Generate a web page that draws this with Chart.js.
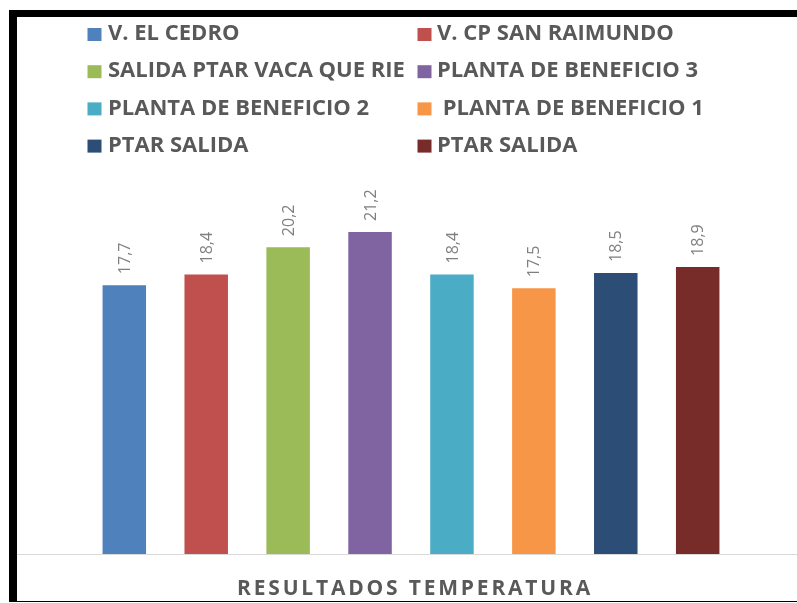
<!DOCTYPE html>
<html><head><meta charset="utf-8">
<script src="https://cdn.jsdelivr.net/npm/chart.js@4/dist/chart.umd.min.js"></script>
<style>
html,body{margin:0;padding:0;background:#fff;overflow:hidden;width:797px;height:603px;}
#frame{position:absolute;left:9px;top:10px;width:788px;height:584px;border-left:8px solid #000;border-top:7px solid #000;border-bottom:1px solid #000;overflow:hidden;background:#fff;}
canvas{display:block;}
</style></head><body>
<div id="frame"><canvas id="c" width="788" height="584"></canvas></div>
<script>
const categories = ['RESULTADOS TEMPERATURA'];
const seriesNames = ['V. EL CEDRO', 'V. CP SAN RAIMUNDO', 'SALIDA PTAR VACA QUE RIE', 'PLANTA DE BENEFICIO 3', 'PLANTA DE BENEFICIO 2', ' PLANTA DE BENEFICIO 1', 'PTAR SALIDA', 'PTAR SALIDA'];
const values = [17.7, 18.4, 20.2, 21.2, 18.4, 17.5, 18.5, 18.9];
const seriesColors = ['#4F81BD', '#C0504D', '#9BBB59', '#8064A2', '#4BACC6', '#F79646', '#2C4D75', '#772C2A'];
const yTicks = [0, 25];

const fmt = v => v.toFixed(1).replace('.', ',');

const spacingPlugin = {
  id: 'spacing',
  beforeDraw(chart) { chart.ctx.letterSpacing = '2.8px'; },
  beforeDatasetsDraw(chart) { chart.ctx.letterSpacing = '0px'; }
};

const valueLabels = {
  id: 'valueLabels',
  afterDatasetsDraw(chart) {
    const ctx = chart.ctx;
    ctx.save();
    ctx.letterSpacing = '0px';
    ctx.font = '16px "Open Sans"';
    ctx.fillStyle = '#7f7f7f';
    chart.data.datasets.forEach((ds, i) => {
      const meta = chart.getDatasetMeta(i);
      meta.data.forEach((el, j) => {
        ctx.save();
        ctx.translate(el.x + 1, el.y - 11);
        ctx.rotate(-Math.PI / 2);
        ctx.textAlign = 'left';
        ctx.textBaseline = 'middle';
        ctx.fillText(fmt(ds.data[j]), 0, 0);
        ctx.restore();
      });
    });
    ctx.restore();
  }
};

const gridLegend = {
  id: 'gridLegend',
  afterDraw(chart) {
    const ctx = chart.ctx;
    ctx.save();
    ctx.letterSpacing = '0px';
    ctx.font = 'bold 22px "Open Sans"';
    ctx.textBaseline = 'middle';
    ctx.textAlign = 'left';
    chart.data.datasets.forEach((ds, i) => {
      const col = i % 2, row = Math.floor(i / 2);
      const bx = col ? 400.5 : 70.5;
      const y = 17 + row * 37.2;
      ctx.fillStyle = ds.backgroundColor;
      ctx.fillRect(bx, y - 6, 14, 13);
      ctx.fillStyle = '#595959';
      ctx.fillText(ds.label, bx + (col ? 19.5 : 20.5), y);
    });
    ctx.restore();
  }
};

new Chart(document.getElementById('c'), {
  type: 'bar',
  data: {
    labels: categories,
    datasets: seriesNames.map((name, i) => ({
      label: name,
      data: [values[i]],
      backgroundColor: seriesColors[i],
      borderWidth: 0
    }))
  },
  options: {
    responsive: false,
    animation: false,
    devicePixelRatio: 1,
    events: [],
    categoryPercentage: 0.8316,
    barPercentage: 0.531,
    layout: { padding: { top: 157.25, bottom: 0, left: 0, right: 0 } },
    plugins: { legend: { display: false }, tooltip: { enabled: false } },
    scales: {
      x: {
        grid: { display: false, drawTicks: false },
        border: { display: true, color: '#d9d9d9', width: 1 },
        ticks: { color: '#595959', padding: 22, labelOffset: 4, maxRotation: 0, minRotation: 0, font: { family: '"Open Sans"', size: 21, weight: 'bold' } },
        afterFit(scale) { scale.height = 47; }
      },
      y: { display: false, min: yTicks[0], max: yTicks[1] }
    }
  },
  plugins: [spacingPlugin, valueLabels, gridLegend]
});
</script>
</body></html>
